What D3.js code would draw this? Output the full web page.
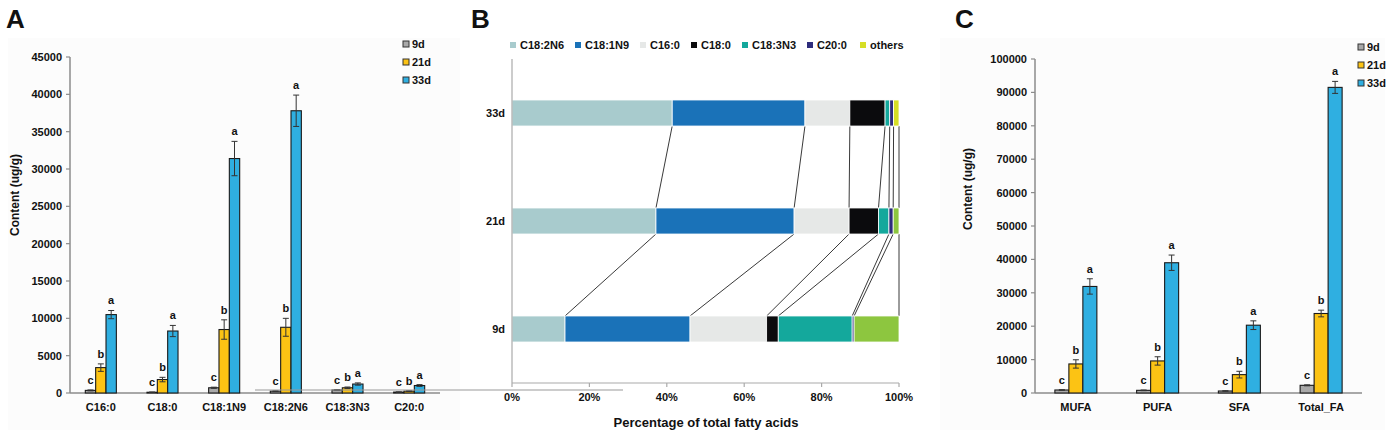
<!DOCTYPE html>
<html>
<head>
	<title>Fatty acid content</title>
	<script type="text/javascript" src="https://cdnjs.cloudflare.com/ajax/libs/d3/7.8.5/d3.min.js"></script>
	<style>
		body { margin: 0; background: #fff; }
		text { font-family: "Liberation Sans", Arial, sans-serif; font-weight: bold; fill: #111; }
	</style>
</head>
<body>
<svg id="chart" width="1392" height="439"></svg>
<script type="text/javascript">
	// ---- data ----
	var days = ["9d", "21d", "33d"];
	var dayColors = ["#a9a9a9", "#fcc314", "#2fafe1"];

	// panel A: individual fatty acids (ug/g)
	var acids = ["C16:0", "C18:0", "C18:1N9", "C18:2N6", "C18:3N3", "C20:0"];
	var acidMean = [
		[350, 100, 700, 250, 400, 120],
		[3400, 1800, 8500, 8800, 700, 250],
		[10500, 8300, 31400, 37800, 1200, 1000]
	];
	var acidErr = [
		[60, 30, 80, 50, 60, 30],
		[500, 300, 1300, 1200, 100, 50],
		[550, 750, 2300, 2100, 150, 120]
	];
	var acidLetters = [
		["c", "c", "c", "c", "c", "c"],
		["b", "b", "b", "b", "b", "b"],
		["a", "a", "a", "a", "a", "a"]
	];
	var acidTicks = [0, 5000, 10000, 15000, 20000, 25000, 30000, 35000, 40000, 45000];

	// panel B: percentage of total fatty acids
	var parts = ["C18:2N6", "C18:1N9", "C16:0", "C18:0", "C18:3N3", "C20:0", "others"];
	var partColors = ["#a8cbcd", "#1a72b8", "#e6e8e7", "#0b0b0d", "#14a89c", "#2e2c7c", "#d6de26"];
	var stackDays = ["33d", "21d", "9d"];
	var stackOthersColors = ["#d6de26", "#8dc63f", "#8dc63f"];
	var stackPct = [
		[41.4, 34.3, 11.6, 9.1, 1.2, 1.0, 1.4],
		[37.2, 35.7, 14.2, 7.6, 2.7, 1.1, 1.5],
		[13.7, 32.3, 19.8, 3.0, 19.1, 0.5, 11.6]
	];
	var pctTicks = [0, 20, 40, 60, 80, 100];

	// panel C: fatty acid classes (ug/g)
	var classes = ["MUFA", "PUFA", "SFA", "Total_FA"];
	var classMean = [
		[900, 800, 600, 2300],
		[8700, 9600, 5500, 23800],
		[31900, 39000, 20300, 91500]
	];
	var classErr = [
		[100, 100, 80, 150],
		[1250, 1250, 1000, 1000],
		[2300, 2300, 1300, 1800]
	];
	var classLetters = [
		["c", "c", "c", "c"],
		["b", "b", "b", "b"],
		["a", "a", "a", "a"]
	];
	var classTicks = [0, 10000, 20000, 30000, 40000, 50000, 60000, 70000, 80000, 90000, 100000];

	var svg = d3.select("#chart");
	var axisColor = "#8c8c8c";

	// faint panel backgrounds
	svg.append("rect").attr("x", 8).attr("y", 38).attr("width", 452).attr("height", 392).attr("fill", "#fcfcfc");
	svg.append("rect").attr("x", 940).attr("y", 38).attr("width", 445).attr("height", 392).attr("fill", "#fcfcfc");

	// panel letters
	[["A", 6], ["B", 471], ["C", 955]].forEach(function(p) {
		svg.append("text").attr("x", p[1]).attr("y", 28).style("font-size", "26px").text(p[0]);
	});

	function groupedBars(cfg) {
		var g = svg.append("g");
		var y = d3.scaleLinear().domain(cfg.domain).range([cfg.bottom, cfg.top]);
		var x0 = d3.scaleBand().domain(cfg.cats).range([cfg.left, cfg.right]);
		var x1 = d3.scaleBand().domain(days).range([0, x0.bandwidth()]).paddingOuter(cfg.outer);

		// y axis
		g.append("line").attr("x1", cfg.left).attr("x2", cfg.left).attr("y1", cfg.top).attr("y2", cfg.bottom)
			.attr("stroke", axisColor).attr("stroke-width", 1.5);
		cfg.ticks.forEach(function(t) {
			g.append("line").attr("x1", cfg.left - 4).attr("x2", cfg.left).attr("y1", y(t)).attr("y2", y(t))
				.attr("stroke", axisColor).attr("stroke-width", 1.2);
			g.append("text").attr("x", cfg.left - 8).attr("y", y(t) + 4).attr("text-anchor", "end")
				.style("font-size", "11px").text(t);
		});
		// x axis
		g.append("line").attr("x1", cfg.left).attr("x2", cfg.right).attr("y1", cfg.bottom).attr("y2", cfg.bottom)
			.attr("stroke", axisColor).attr("stroke-width", 1.5);
		cfg.cats.forEach(function(c) {
			g.append("text").attr("x", x0(c) + x0.bandwidth() / 2).attr("y", cfg.bottom + 18)
				.attr("text-anchor", "middle").style("font-size", "11px").text(c);
		});

		// bars, error bars, letters
		days.forEach(function(d, si) {
			cfg.cats.forEach(function(c, ci) {
				var v = cfg.mean[si][ci], e = cfg.err[si][ci];
				var bx = x0(c) + x1(d), bw = x1.bandwidth();
				g.append("rect").attr("x", bx).attr("y", y(v)).attr("width", bw).attr("height", cfg.bottom - y(v))
					.attr("fill", dayColors[si]).attr("stroke", "#1a1a1a").attr("stroke-width", 1.1);
				var cx = bx + bw / 2;
				g.append("line").attr("x1", cx).attr("x2", cx).attr("y1", y(v + e)).attr("y2", y(Math.max(0, v - e)))
					.attr("stroke", "#333").attr("stroke-width", 1);
				[v + e, v - e].forEach(function(w) {
					if (w < 0) return;
					g.append("line").attr("x1", cx - 3).attr("x2", cx + 3).attr("y1", y(w)).attr("y2", y(w))
						.attr("stroke", "#333").attr("stroke-width", 1);
				});
				g.append("text").attr("x", cx).attr("y", y(v + e) - 6).attr("text-anchor", "middle")
					.style("font-size", "11px").text(cfg.letters[si][ci]);
			});
		});

		// y title
		g.append("text").attr("transform", "translate(" + cfg.titleX + "," + cfg.titleY + ") rotate(-90)")
			.attr("text-anchor", "middle").style("font-size", "12px").text("Content (ug/g)");

		// legend
		days.forEach(function(d, i) {
			g.append("rect").attr("x", cfg.legX).attr("y", cfg.legY + i * 18 - 3).attr("width", 6).attr("height", 6)
				.attr("fill", dayColors[i]).attr("stroke", "#333").attr("stroke-width", 1);
			g.append("text").attr("x", cfg.legX + 9).attr("y", cfg.legY + i * 18 + 4)
				.style("font-size", "11px").text(d);
		});
	}

	groupedBars({
		cats: acids, mean: acidMean, err: acidErr, letters: acidLetters, ticks: acidTicks,
		domain: [0, 45000], top: 57, bottom: 393, left: 70, right: 440, outer: 1.48,
		titleX: 19, titleY: 195, legX: 403, legY: 44
	});

	groupedBars({
		cats: classes, mean: classMean, err: classErr, letters: classLetters, ticks: classTicks,
		domain: [0, 100000], top: 59, bottom: 393, left: 1035, right: 1362, outer: 1.42,
		titleX: 972, titleY: 189, legX: 1358, legY: 47
	});

	// stray gray rule that crosses from panel A into panel B in the original
	svg.append("line").attr("x1", 255).attr("x2", 623).attr("y1", 390).attr("y2", 390)
		.attr("stroke", "#9a9a9a").attr("stroke-width", 1.2);

	// ---- panel B ----
	var gB = svg.append("g");
	var xB = d3.scaleLinear().domain([0, 100]).range([512, 899]);
	var yB = d3.scaleBand().domain(stackDays).range([59, 383]).paddingInner(0.759).paddingOuter(0.3796);

	var cum = stackPct.map(function(row) {
		var s = 0;
		return row.map(function(v) { var a = s; s += v; return [a, s]; });
	});

	// connectors between stacked bars
	for (var r = 0; r < stackDays.length - 1; r++) {
		cum[r].forEach(function(seg, k) {
			gB.append("line")
				.attr("x1", xB(Math.min(100, seg[1]))).attr("y1", yB(stackDays[r]) + yB.bandwidth())
				.attr("x2", xB(Math.min(100, cum[r + 1][k][1]))).attr("y2", yB(stackDays[r + 1]))
				.attr("stroke", "#222").attr("stroke-width", 0.9);
		});
	}

	stackDays.forEach(function(d, r) {
		cum[r].forEach(function(seg, k) {
			var col = k === parts.length - 1 ? stackOthersColors[r] : partColors[k];
			gB.append("rect").attr("x", xB(seg[0])).attr("y", yB(d))
				.attr("width", xB(Math.min(100, seg[1])) - xB(seg[0])).attr("height", yB.bandwidth())
				.attr("fill", col).attr("stroke", "#fff").attr("stroke-width", 0.8);
		});
		gB.append("text").attr("x", 505).attr("y", yB(d) + yB.bandwidth() / 2 + 4).attr("text-anchor", "end")
			.style("font-size", "11px").text(d);
	});

	// axes
	gB.append("line").attr("x1", 512).attr("x2", 512).attr("y1", 59).attr("y2", 383)
		.attr("stroke", "#aaa").attr("stroke-width", 1.2);
	gB.append("line").attr("x1", 512).attr("x2", 899).attr("y1", 383).attr("y2", 383)
		.attr("stroke", "#aaa").attr("stroke-width", 1.2);
	pctTicks.forEach(function(t) {
		gB.append("line").attr("x1", xB(t)).attr("x2", xB(t)).attr("y1", 383).attr("y2", 387)
			.attr("stroke", "#aaa").attr("stroke-width", 1.2);
		gB.append("text").attr("x", xB(t)).attr("y", 401).attr("text-anchor", "middle")
			.style("font-size", "11px").text(t + "%");
	});
	gB.append("text").attr("x", 706).attr("y", 427).attr("text-anchor", "middle")
		.style("font-size", "13px").text("Percentage of total fatty acids");

	// legend
	var legXs = [510, 575, 640, 691, 742, 807, 860];
	parts.forEach(function(p, i) {
		gB.append("rect").attr("x", legXs[i]).attr("y", 42).attr("width", 6).attr("height", 6).attr("fill", partColors[i]);
		gB.append("text").attr("x", legXs[i] + 10).attr("y", 49).style("font-size", "11px").text(p);
	});
</script>
</body>
</html>
